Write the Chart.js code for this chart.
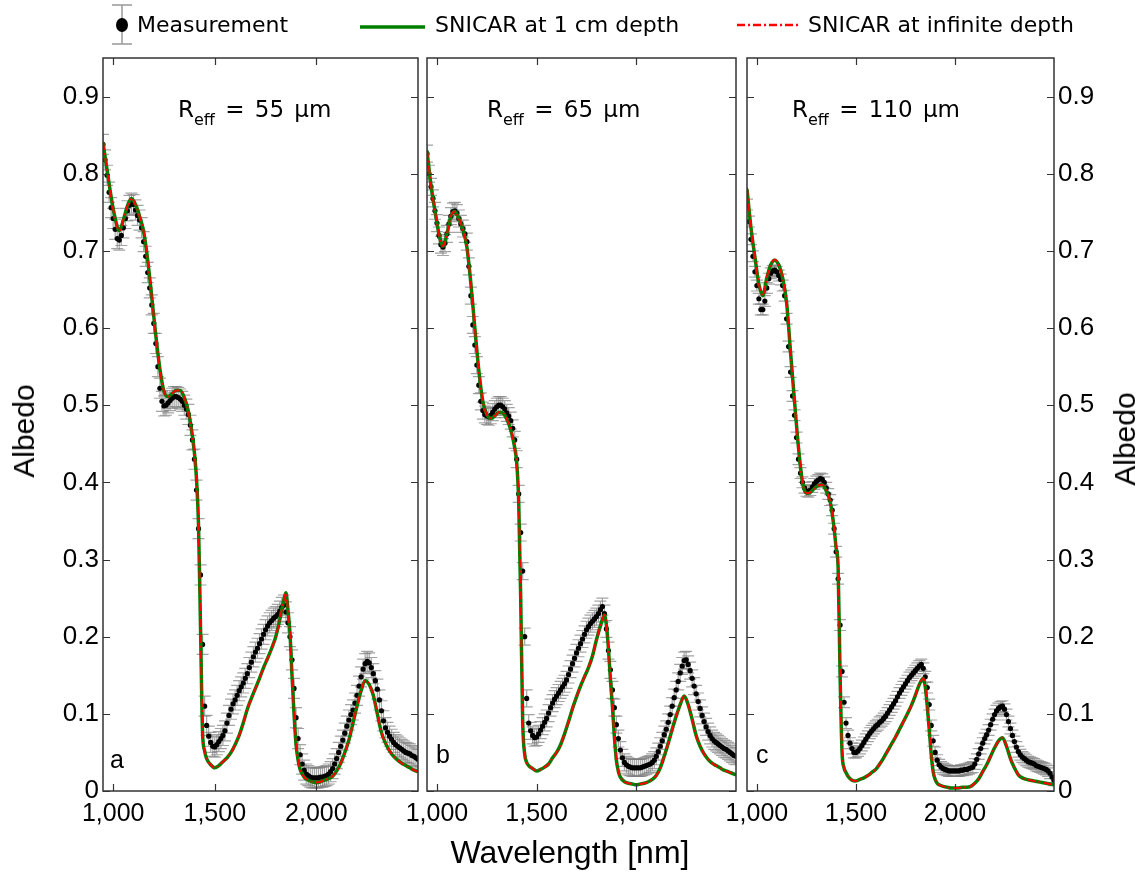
<!DOCTYPE html>
<html>
<head>
<meta charset="utf-8">
<script src="https://cdn.jsdelivr.net/npm/chart.js@4.4.0/dist/chart.umd.min.js"></script>
<style>
  body { margin: 0; background: #fff; }
  #page { position: relative; width: 1146px; height: 873px; overflow: hidden; background: #fff; }
  canvas { position: absolute; top: 0; }
  .txt { position: absolute; white-space: nowrap; color: #000; }
  .leg { font-family: "DejaVu Sans"; font-size: 22px; top: 12px; line-height: 26px; }
  .reff { font-family: "DejaVu Sans"; font-size: 23px; line-height: 23px; top: 98px; word-spacing: 3px; }
  .reff sub { font-size: 16px; vertical-align: baseline; position: relative; top: 8px; }
  .let { font-family: "Liberation Sans"; font-size: 25px; line-height: 25px; }
  .title { font-family: "Liberation Sans"; font-size: 30px; transform: translate(-50%, -50%); }
</style>
</head>
<body>
<div id="page">
  <canvas id="cA" width="440" height="873" style="left:0px"></canvas>
  <canvas id="cB" width="380" height="873" style="left:380px"></canvas>
  <canvas id="cC" width="446" height="873" style="left:700px"></canvas>

  <svg width="1146" height="50" style="position:absolute;left:0;top:0">
    <line x1="122" y1="5" x2="122" y2="44" stroke="#999" stroke-width="1.5"/>
    <line x1="112" y1="5" x2="132" y2="5" stroke="#999" stroke-width="1.5"/>
    <line x1="112" y1="44" x2="132" y2="44" stroke="#999" stroke-width="1.5"/>
    <ellipse cx="122" cy="25" rx="6" ry="7" fill="#000"/>
    <line x1="360" y1="27" x2="425" y2="27" stroke="#008000" stroke-width="3.5"/>
    <line x1="737" y1="25" x2="801" y2="25" stroke="#ff0000" stroke-width="2.5" stroke-dasharray="8 3 2 3"/>
  </svg>
  <div class="txt leg" style="left:137px">Measurement</div>
  <div class="txt leg" style="left:435px">SNICAR at 1 cm depth</div>
  <div class="txt leg" style="left:808px">SNICAR at infinite depth</div>

  <div class="txt reff" style="left:178px">R<sub>eff</sub> = 55 μm</div>
  <div class="txt reff" style="left:487px">R<sub>eff</sub> = 65 μm</div>
  <div class="txt reff" style="left:792px">R<sub>eff</sub> = 110 μm</div>

  <div class="txt let" style="left:110px;top:747px">a</div>
  <div class="txt let" style="left:436px;top:742px">b</div>
  <div class="txt let" style="left:756px;top:742px">c</div>

  <div class="txt title" style="left:24px;top:431px;transform:translate(-50%,-50%) rotate(-90deg)">Albedo</div>
  <div class="txt title" style="left:1125px;top:439px;transform:translate(-50%,-50%) rotate(-90deg)">Albedo</div>
  <div class="txt title" style="left:570px;top:852px;font-size:32px">Wavelength [nm]</div>
</div>

<script>
// wavelength grid of the measurements (nm)
const measNm = [
  950,960,970,980,990,1000,1010,1020,1030,1040,
  1050,1060,1070,1080,1090,1100,1110,1120,1130,1140,
  1150,1160,1170,1180,1190,1200,1210,1220,1230,1240,
  1250,1260,1270,1280,1290,1300,1310,1320,1330,1340,
  1350,1360,1370,1380,1390,1400,1410,1420,1430,1440,
  1450,1460,1470,1480,1490,1500,1510,1520,1530,1540,
  1550,1560,1570,1580,1590,1600,1610,1620,1630,1640,
  1650,1660,1670,1680,1690,1700,1710,1720,1730,1740,
  1750,1760,1770,1780,1790,1800,1810,1820,1830,1840,
  1850,1860,1870,1880,1890,1900,1910,1920,1930,1940,
  1950,1960,1970,1980,1990,2000,2010,2020,2030,2040,
  2050,2060,2070,2080,2090,2100,2110,2120,2130,2140,
  2150,2160,2170,2180,2190,2200,2210,2220,2230,2240,
  2250,2260,2270,2280,2290,2300,2310,2320,2330,2340,
  2350,2360,2370,2380,2390,2400,2410,2420,2430,2440,
  2450,2460,2470,2480,2490,2500
];

// measured albedo, R_eff = 55 um
const measA = [
  0.838,0.818,0.798,0.776,0.756,0.742,0.728,0.716,0.714,0.720,
  0.730,0.742,0.752,0.759,0.762,0.760,0.753,0.746,0.740,0.730,
  0.712,0.693,0.672,0.652,0.630,0.606,0.580,0.550,0.522,0.505,
  0.499,0.500,0.503,0.506,0.509,0.511,0.511,0.510,0.508,0.505,
  0.500,0.495,0.488,0.474,0.455,0.430,0.390,0.340,0.280,0.190,
  0.110,0.085,0.071,0.063,0.058,0.057,0.060,0.064,0.068,0.072,
  0.078,0.088,0.098,0.106,0.113,0.118,0.124,0.130,0.135,0.140,
  0.146,0.152,0.160,0.167,0.174,0.180,0.185,0.191,0.197,0.203,
  0.209,0.214,0.218,0.221,0.224,0.226,0.229,0.233,0.238,0.241,
  0.232,0.218,0.200,0.170,0.133,0.095,0.068,0.047,0.035,0.027,
  0.022,0.020,0.018,0.017,0.017,0.017,0.017,0.018,0.018,0.019,
  0.020,0.022,0.025,0.029,0.035,0.042,0.050,0.058,0.066,0.075,
  0.084,0.092,0.099,0.105,0.114,0.124,0.136,0.148,0.158,0.165,
  0.168,0.166,0.160,0.152,0.143,0.132,0.118,0.104,0.091,0.082,
  0.076,0.071,0.067,0.063,0.060,0.058,0.056,0.054,0.052,0.050,
  0.049,0.048,0.046,0.045,0.043,0.041
];

// measured albedo, R_eff = 65 um
const measB = [
  0.826,0.800,0.783,0.768,0.752,0.736,0.720,0.708,0.705,0.710,
  0.722,0.735,0.745,0.751,0.752,0.749,0.742,0.735,0.729,0.722,
  0.712,0.680,0.642,0.604,0.578,0.552,0.526,0.505,0.493,0.488,
  0.486,0.485,0.487,0.491,0.495,0.498,0.500,0.500,0.498,0.495,
  0.490,0.486,0.480,0.470,0.455,0.430,0.385,0.335,0.285,0.200,
  0.120,0.088,0.078,0.072,0.069,0.070,0.074,0.079,0.084,0.089,
  0.094,0.101,0.108,0.114,0.119,0.123,0.127,0.131,0.135,0.139,
  0.144,0.151,0.158,0.165,0.172,0.179,0.185,0.191,0.197,0.203,
  0.209,0.213,0.217,0.220,0.223,0.226,0.230,0.235,0.239,0.230,
  0.210,0.182,0.157,0.131,0.108,0.086,0.068,0.053,0.043,0.037,
  0.034,0.032,0.031,0.030,0.030,0.030,0.030,0.030,0.031,0.032,
  0.033,0.034,0.035,0.037,0.040,0.045,0.051,0.058,0.065,0.073,
  0.080,0.089,0.099,0.110,0.121,0.131,0.142,0.153,0.162,0.169,
  0.170,0.164,0.156,0.146,0.136,0.126,0.116,0.107,0.098,0.090,
  0.083,0.077,0.072,0.068,0.065,0.063,0.061,0.059,0.057,0.055,
  0.054,0.052,0.050,0.048,0.046,0.045
];

// measured albedo, R_eff = 110 um
const measC = [
  0.760,0.738,0.715,0.693,0.673,0.655,0.638,0.624,0.624,0.635,
  0.652,0.664,0.671,0.674,0.675,0.673,0.668,0.663,0.655,0.642,
  0.612,0.576,0.543,0.512,0.487,0.458,0.430,0.412,0.400,0.393,
  0.389,0.388,0.390,0.394,0.398,0.401,0.403,0.405,0.404,0.400,
  0.393,0.385,0.377,0.364,0.340,0.310,0.275,0.215,0.155,0.115,
  0.088,0.072,0.062,0.055,0.050,0.050,0.052,0.055,0.059,0.063,
  0.067,0.071,0.075,0.078,0.081,0.084,0.086,0.089,0.091,0.094,
  0.097,0.101,0.105,0.109,0.113,0.117,0.122,0.127,0.131,0.135,
  0.139,0.143,0.147,0.150,0.153,0.156,0.159,0.162,0.164,0.159,
  0.148,0.134,0.112,0.085,0.065,0.050,0.040,0.034,0.031,0.029,
  0.028,0.027,0.026,0.026,0.026,0.026,0.026,0.026,0.027,0.027,
  0.028,0.028,0.029,0.030,0.031,0.035,0.041,0.048,0.055,0.062,
  0.068,0.073,0.079,0.086,0.093,0.099,0.104,0.107,0.109,0.110,
  0.106,0.099,0.090,0.081,0.072,0.064,0.057,0.051,0.047,0.044,
  0.042,0.040,0.038,0.037,0.036,0.035,0.033,0.032,0.031,0.030,
  0.029,0.028,0.026,0.023,0.018,0.014
];

// measurement uncertainty (half height of the grey error bars)
const errA = 0.013;
const errB = 0.011;
const errC = 0.007;

// wavelength grid of the SNICAR runs (nm)
const modelNm = [
  950,970,990,1010,1030,1050,1070,1090,1110,1130,
  1150,1170,1190,1210,1230,1250,1270,1290,1310,1330,
  1350,1370,1390,1400,1410,1420,1430,1440,1450,1460,
  1480,1500,1520,1540,1560,1580,1600,1620,1640,1660,
  1680,1700,1720,1740,1760,1780,1800,1820,1840,1850,
  1860,1870,1880,1890,1900,1910,1920,1940,1960,1980,
  2000,2020,2040,2060,2080,2100,2120,2140,2160,2180,
  2200,2220,2240,2260,2280,2300,2320,2340,2360,2380,
  2400,2420,2440,2460,2480,2500
];

// SNICAR, 1 cm depth
const snow1cmA = [
  0.840,0.805,0.770,0.742,0.726,0.740,0.758,0.768,0.760,0.745,
  0.725,0.688,0.640,0.590,0.547,0.518,0.511,0.515,0.519,0.519,
  0.510,0.492,0.460,0.438,0.405,0.345,0.210,0.075,0.052,0.042,
  0.034,0.030,0.033,0.038,0.043,0.050,0.060,0.072,0.088,0.106,
  0.120,0.133,0.146,0.160,0.172,0.185,0.200,0.222,0.248,0.257,
  0.235,0.205,0.150,0.100,0.060,0.040,0.028,0.018,0.014,0.012,
  0.011,0.012,0.014,0.016,0.019,0.026,0.036,0.050,0.066,0.088,
  0.110,0.130,0.143,0.138,0.124,0.100,0.076,0.062,0.052,0.045,
  0.040,0.036,0.033,0.030,0.027,0.025
];
const snow1cmB = [
  0.830,0.785,0.752,0.722,0.706,0.722,0.745,0.751,0.742,0.728,
  0.705,0.658,0.600,0.545,0.505,0.488,0.483,0.486,0.491,0.490,
  0.482,0.468,0.445,0.425,0.375,0.250,0.090,0.048,0.037,0.033,
  0.029,0.026,0.028,0.031,0.035,0.043,0.050,0.060,0.074,0.090,
  0.107,0.122,0.136,0.148,0.160,0.175,0.196,0.214,0.228,0.215,
  0.185,0.145,0.110,0.070,0.040,0.025,0.018,0.012,0.010,0.009,
  0.008,0.009,0.010,0.012,0.015,0.020,0.030,0.045,0.062,0.080,
  0.097,0.112,0.123,0.112,0.093,0.072,0.058,0.048,0.041,0.036,
  0.033,0.030,0.027,0.025,0.023,0.021
];
const snow1cmC = [
  0.780,0.730,0.692,0.657,0.642,0.665,0.682,0.688,0.682,0.665,
  0.633,0.568,0.505,0.445,0.400,0.386,0.387,0.392,0.396,0.397,
  0.389,0.375,0.340,0.315,0.290,0.150,0.050,0.030,0.024,0.019,
  0.014,0.013,0.015,0.017,0.020,0.024,0.028,0.035,0.043,0.052,
  0.061,0.070,0.080,0.090,0.100,0.111,0.124,0.138,0.146,0.135,
  0.110,0.080,0.048,0.025,0.015,0.010,0.008,0.006,0.005,0.004,
  0.004,0.004,0.005,0.005,0.006,0.010,0.016,0.025,0.034,0.045,
  0.056,0.065,0.069,0.058,0.042,0.030,0.021,0.017,0.015,0.014,
  0.013,0.012,0.011,0.010,0.009,0.008
];

// SNICAR, infinite depth
const snowInfA = [
  0.841,0.805,0.770,0.742,0.726,0.740,0.758,0.769,0.760,0.745,
  0.725,0.688,0.640,0.590,0.547,0.518,0.511,0.515,0.519,0.519,
  0.510,0.492,0.460,0.438,0.405,0.345,0.210,0.075,0.052,0.042,
  0.034,0.030,0.033,0.038,0.043,0.050,0.060,0.072,0.088,0.106,
  0.120,0.133,0.146,0.160,0.172,0.185,0.200,0.222,0.248,0.257,
  0.235,0.205,0.150,0.100,0.060,0.040,0.028,0.018,0.014,0.012,
  0.011,0.012,0.014,0.016,0.019,0.026,0.036,0.050,0.066,0.088,
  0.110,0.130,0.143,0.138,0.124,0.100,0.076,0.062,0.052,0.045,
  0.040,0.036,0.033,0.030,0.027,0.025
];
const snowInfB = [
  0.831,0.785,0.752,0.722,0.706,0.722,0.745,0.751,0.742,0.728,
  0.705,0.658,0.600,0.545,0.505,0.488,0.483,0.486,0.491,0.490,
  0.482,0.468,0.445,0.425,0.375,0.250,0.090,0.048,0.037,0.033,
  0.029,0.026,0.028,0.031,0.035,0.043,0.050,0.060,0.074,0.090,
  0.107,0.122,0.136,0.148,0.160,0.175,0.196,0.214,0.228,0.215,
  0.185,0.145,0.110,0.070,0.040,0.025,0.018,0.012,0.010,0.009,
  0.008,0.009,0.010,0.012,0.015,0.020,0.030,0.045,0.062,0.080,
  0.097,0.112,0.123,0.112,0.093,0.072,0.058,0.048,0.041,0.036,
  0.033,0.030,0.027,0.025,0.023,0.021
];
const snowInfC = [
  0.782,0.731,0.693,0.657,0.642,0.666,0.683,0.689,0.682,0.665,
  0.633,0.568,0.505,0.445,0.400,0.386,0.387,0.392,0.396,0.397,
  0.389,0.375,0.340,0.315,0.290,0.150,0.050,0.030,0.024,0.019,
  0.014,0.013,0.015,0.017,0.020,0.024,0.028,0.035,0.043,0.052,
  0.061,0.070,0.080,0.090,0.100,0.111,0.124,0.138,0.146,0.135,
  0.110,0.080,0.048,0.025,0.015,0.010,0.008,0.006,0.005,0.004,
  0.004,0.004,0.005,0.005,0.006,0.010,0.016,0.025,0.034,0.045,
  0.056,0.065,0.069,0.058,0.042,0.030,0.021,0.017,0.015,0.014,
  0.013,0.012,0.011,0.010,0.009,0.008
];

// axis ticks
const xTicks = [1000, 1500, 2000];
const yTicks = [0, 0.1, 0.2, 0.3, 0.4, 0.5, 0.6, 0.7, 0.8, 0.9];

Chart.defaults.font.family = 'Liberation Sans';
Chart.defaults.color = '#000';

function pts(xs, ys) {
  return xs.map((x, i) => ({ x: x, y: ys[i] }));
}

// grey error bars drawn under everything
const errorBars = {
  id: 'errorBars',
  beforeDatasetsDraw(chart, args, opts) {
    const meta = chart.getDatasetMeta(opts.index);
    const data = chart.data.datasets[opts.index].data;
    const y = chart.scales.y;
    const ctx = chart.ctx;
    const a = chart.chartArea;
    ctx.save();
    ctx.beginPath();
    ctx.rect(a.left, a.top, a.right - a.left, a.bottom - a.top);
    ctx.clip();
    ctx.strokeStyle = 'rgba(125,125,125,0.7)';
    ctx.lineWidth = 1.2;
    meta.data.forEach((p, i) => {
      const top = y.getPixelForValue(data[i].y + opts.err);
      const bot = y.getPixelForValue(data[i].y - opts.err);
      ctx.beginPath();
      ctx.moveTo(p.x, top); ctx.lineTo(p.x, bot);
      ctx.moveTo(p.x - 6, top); ctx.lineTo(p.x + 6, top);
      ctx.moveTo(p.x - 6, bot); ctx.lineTo(p.x + 6, bot);
      ctx.stroke();
    });
    ctx.restore();
  }
};

// box around the panel with inward ticks on all four sides
const frame = {
  id: 'frame',
  afterDraw(chart) {
    const ctx = chart.ctx;
    const a = chart.chartArea;
    const xs = chart.scales.x, ys = chart.scales.y;
    ctx.save();
    ctx.strokeStyle = '#333';
    ctx.lineWidth = 1.5;
    ctx.strokeRect(a.left, a.top, a.right - a.left, a.bottom - a.top);
    ctx.beginPath();
    yTicks.forEach(v => {
      const py = Math.round(ys.getPixelForValue(v)) + 0.5;
      ctx.moveTo(a.left, py); ctx.lineTo(a.left + 7, py);
      ctx.moveTo(a.right, py); ctx.lineTo(a.right - 7, py);
    });
    xTicks.forEach(v => {
      const px = Math.round(xs.getPixelForValue(v)) + 0.5;
      ctx.moveTo(px, a.bottom); ctx.lineTo(px, a.bottom - 7);
      ctx.moveTo(px, a.top); ctx.lineTo(px, a.top + 7);
    });
    ctx.lineWidth = 1.2;
    ctx.stroke();
    ctx.restore();
  }
};

function makePanel(id, meas, err, snow1cm, snowInf, cfg) {
  new Chart(document.getElementById(id), {
    type: 'scatter',
    data: {
      datasets: [
        {
          label: 'SNICAR at infinite depth',
          data: pts(modelNm, snowInf),
          showLine: true,
          borderColor: '#ff0000',
          borderWidth: 2,
          borderDash: [8, 3, 2, 3],
          pointRadius: 0,
          cubicInterpolationMode: 'monotone'
        },
        {
          label: 'SNICAR at 1 cm depth',
          data: pts(modelNm, snow1cm),
          showLine: true,
          borderColor: '#008000',
          borderWidth: 3.5,
          pointRadius: 0,
          cubicInterpolationMode: 'monotone'
        },
        {
          label: 'Measurement',
          data: pts(measNm, meas),
          showLine: false,
          pointRadius: 2.6,
          pointBackgroundColor: '#000',
          pointBorderWidth: 0
        }
      ]
    },
    options: {
      responsive: false,
      animation: false,
      devicePixelRatio: 1,
      layout: { padding: cfg.padding },
      plugins: {
        legend: { display: false },
        tooltip: { enabled: false },
        errorBars: { index: 2, err: err }
      },
      scales: {
        x: {
          type: 'linear',
          min: 950,
          max: 2500,
          grid: { display: false, drawTicks: false },
          border: { display: false },
          afterBuildTicks: s => { s.ticks = xTicks.map(v => ({ value: v })); },
          afterFit: s => { s.height = 40; },
          ticks: {
            padding: 8,
            maxRotation: 0,
            font: { size: 25 },
            callback: v => v.toLocaleString('en-US')
          }
        },
        y: {
          min: 0,
          max: 0.95,
          position: cfg.yPos,
          display: cfg.yShow,
          grid: { display: false, drawTicks: false },
          border: { display: false },
          afterBuildTicks: s => { s.ticks = yTicks.map(v => ({ value: v })); },
          afterFit: s => { s.width = cfg.yWidth; },
          ticks: {
            padding: 4,
            font: { size: 26 },
            callback: v => (v === 0 ? '0' : v.toFixed(1))
          }
        }
      }
    },
    plugins: [errorBars, frame]
  });
}

makePanel('cA', measA, errA, snow1cmA, snowInfA,
  { padding: { left: 0, right: 22, top: 58, bottom: 42 }, yPos: 'left', yShow: true, yWidth: 103 });
makePanel('cB', measB, errB, snow1cmB, snowInfB,
  { padding: { left: 47, right: 24, top: 58, bottom: 42 }, yPos: 'left', yShow: false, yWidth: 0 });
makePanel('cC', measC, errC, snow1cmC, snowInfC,
  { padding: { left: 47, right: 0, top: 58, bottom: 42 }, yPos: 'right', yShow: true, yWidth: 92 });
</script>
</body>
</html>
